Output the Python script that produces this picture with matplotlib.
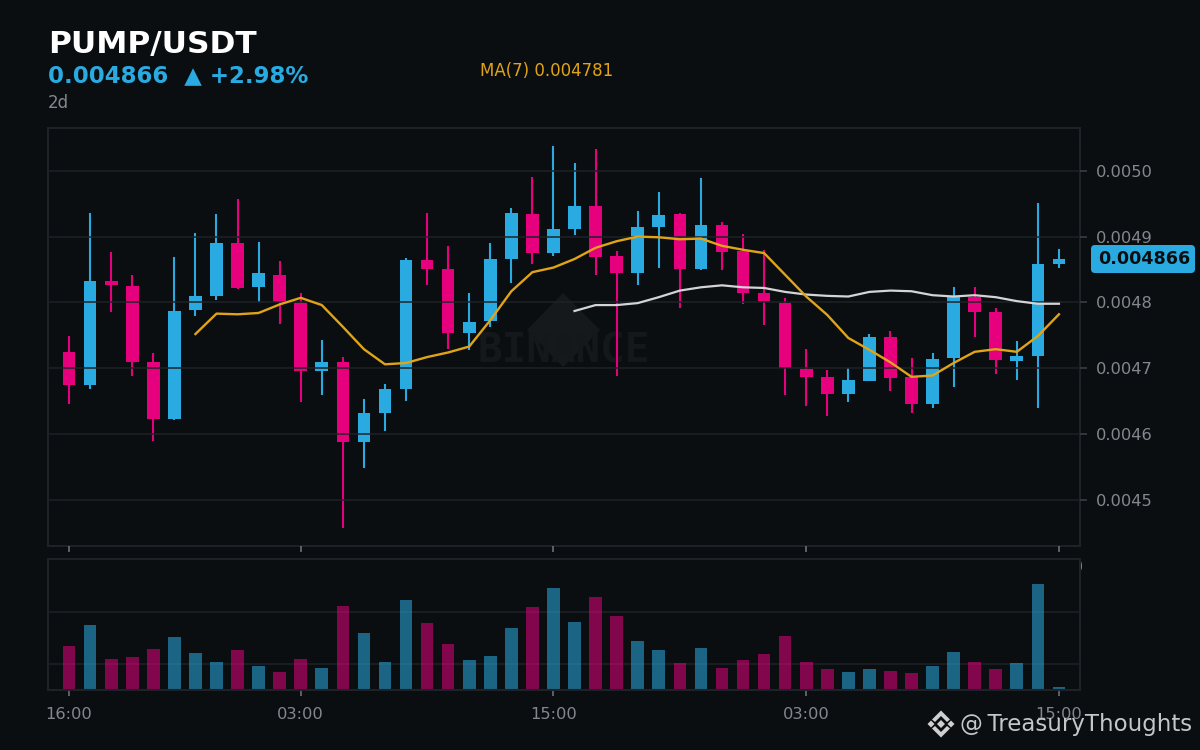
import numpy as np
import matplotlib
matplotlib.use("Agg")
import matplotlib.pyplot as plt
from matplotlib.patches import FancyBboxPatch, Polygon
from matplotlib.ticker import FormatStrFormatter
from matplotlib.transforms import Affine2D

# candle values, in millionths of USDT
opens = [4725, 4675, 4833, 4825, 4710, 4623, 4789, 4810, 4891, 4824, 4842, 4799,
         4696, 4710, 4588, 4632, 4669, 4865, 4851, 4754, 4772, 4866, 4935, 4875,
         4912, 4946, 4871, 4844, 4915, 4935, 4851, 4917, 4878, 4815, 4799, 4699,
         4687, 4661, 4681, 4748, 4687, 4646, 4716, 4809, 4786, 4711, 4719, 4859]
closes = [4675, 4833, 4827, 4710, 4623, 4787, 4810, 4891, 4822, 4844, 4801, 4696,
          4710, 4588, 4632, 4669, 4865, 4851, 4754, 4770, 4866, 4936, 4875, 4912,
          4946, 4869, 4845, 4915, 4933, 4851, 4917, 4877, 4815, 4802, 4701, 4687,
          4661, 4682, 4748, 4685, 4646, 4714, 4809, 4786, 4713, 4719, 4859, 4866]
highs = [4749, 4936, 4876, 4841, 4723, 4869, 4905, 4934, 4957, 4892, 4863, 4814,
         4743, 4717, 4654, 4676, 4867, 4936, 4886, 4814, 4890, 4943, 4991, 5038,
         5012, 5033, 4878, 4939, 4968, 4936, 4989, 4922, 4904, 4880, 4807, 4729,
         4697, 4700, 4752, 4756, 4716, 4723, 4823, 4823, 4791, 4741, 4951, 4881]
lows = [4646, 4669, 4785, 4689, 4590, 4622, 4779, 4803, 4821, 4800, 4768, 4649,
        4659, 4458, 4549, 4605, 4651, 4826, 4729, 4728, 4763, 4830, 4859, 4870,
        4903, 4842, 4689, 4827, 4852, 4791, 4850, 4850, 4797, 4765, 4659, 4643,
        4628, 4649, 4680, 4665, 4632, 4639, 4671, 4747, 4691, 4682, 4639, 4852]

# moving averages start later than the candles
ma7_start = 6
ma7 = [4752, 4783, 4782, 4784, 4797, 4807, 4796, 4763, 4729, 4706, 4708, 4717,
       4724, 4733, 4773, 4817, 4846, 4853, 4866, 4883, 4893, 4900, 4899, 4896,
       4897, 4886, 4880, 4875, 4842, 4809, 4781, 4746, 4728, 4709, 4687, 4689,
       4708, 4725, 4729, 4725, 4749, 4782]
ma25_start = 24
ma25 = [4787, 4796, 4796, 4799, 4808, 4818, 4823, 4826, 4823, 4822, 4816, 4812,
        4810, 4809, 4816, 4818, 4817, 4811, 4809, 4811, 4808, 4802, 4798, 4798]

# volume, arbitrary millions (grid lines sit at 5 and 15)
volumes = [8.5, 12.6, 6.0, 6.4, 7.8, 10.1, 7.2, 5.4, 7.6, 4.7, 3.5, 6.0,
           4.3, 16.2, 11.0, 5.3, 17.4, 12.8, 8.9, 5.8, 6.6, 12.0, 16.0, 19.7,
           13.1, 17.8, 14.3, 9.5, 7.6, 5.1, 8.1, 4.3, 5.8, 7.0, 10.4, 5.4,
           4.1, 3.5, 4.1, 3.7, 3.3, 4.7, 7.4, 5.3, 4.1, 5.1, 20.3, 0.6]

time_ticks = [0, 11, 23, 35, 47]
time_labels = ["16:00", "03:00", "15:00", "03:00", "15:00"]
price_ticks = [0.0045, 0.0046, 0.0047, 0.0048, 0.0049, 0.0050]
vol_grid = [5, 15]

BG = "#0b0e11"
BLUE = "#29abe2"
PINK = "#e6007e"
GOLD = "#e0a416"
WHITE = "#d4d4d6"
GREY = "#84888e"
LINE = "#1e2226"

W, H = 1200, 750
fig = plt.figure(figsize=(12, 7.5), dpi=100, facecolor=BG)
# pixel coordinates, top-left origin, for the text and logos
px = Affine2D().scale(1, -1).translate(0, H)


def box(left, top, right, bottom):
    return [left / W, 1 - bottom / H, (right - left) / W, (bottom - top) / H]


ax = fig.add_axes(box(48, 128, 1080, 546), facecolor=BG)
ax_vol = fig.add_axes(box(48, 559, 1080, 690), facecolor=BG)

o = np.array(opens) / 1e6
c = np.array(closes) / 1e6
hi = np.array(highs) / 1e6
lo = np.array(lows) / 1e6
x = np.arange(len(o))
colors = [BLUE if b >= a else PINK for a, b in zip(o, c)]

# watermark goes under the candles
ax.add_patch(Polygon([(563, 293), (600, 330), (563, 367), (527, 330)], closed=True,
                     transform=px, facecolor="#16191c", edgecolor="none", zorder=0.5))
ax.text(564, 351, "BINANCE", transform=px, family="DejaVu Sans Mono", weight="bold",
        fontsize=29.5, color="#15181b", ha="center", va="center", zorder=0.6)

ax.vlines(x, lo, hi, colors=colors, linewidth=1.5, zorder=2)
ax.bar(x, np.abs(c - o), bottom=np.minimum(o, c), width=0.6, color=colors, zorder=2)
ax.plot(x[ma25_start:], np.array(ma25) / 1e6, color=WHITE, lw=1.6, zorder=3)
ax.plot(x[ma7_start:], np.array(ma7) / 1e6, color=GOLD, lw=1.7, zorder=3.1)

ax.set_xlim(-1, 48)
ax.set_ylim(0.004430, 0.005065)
ax.set_yticks(price_ticks)
ax.yaxis.set_major_formatter(FormatStrFormatter("%.4f"))
ax.yaxis.tick_right()
ax.set_xticks(time_ticks)
ax.tick_params(axis="x", labelbottom=False, length=4, width=1.2, color="#6c7076", pad=4)
ax.tick_params(axis="y", length=5, width=1.2, color="#3a3e43", labelcolor=GREY,
               labelsize=11.7, pad=6.3)
ax.grid(axis="y", color=LINE, lw=1.1)
ax.set_axisbelow(False)

ax_vol.bar(x, volumes, width=0.6, color=colors, alpha=0.55, zorder=2)
ax_vol.set_xlim(-1, 48)
ax_vol.set_ylim(0, 25.2)
ax_vol.set_yticks(vol_grid)
ax_vol.set_xticks(time_ticks)
ax_vol.set_xticklabels(time_labels)
ax_vol.tick_params(axis="y", length=0, labelright=False, labelleft=False)
ax_vol.tick_params(axis="x", length=4, width=1.2, color="#6c7076", labelcolor=GREY,
                   labelsize=11.7, pad=8.5)
ax_vol.grid(axis="y", color=LINE, lw=1.1, zorder=1)
ax_vol.set_axisbelow(True)

for a in (ax, ax_vol):
    for s in a.spines.values():
        s.set_color(LINE)
        s.set_linewidth(1.5)

# header
fig.text(48.5, 53, "PUMP/USDT", transform=px, color="white", weight="bold", fontsize=22.5)
fig.text(48, 82, "0.004866  ▲ +2.98%", transform=px, color=BLUE, weight="bold", fontsize=16.5)
fig.text(48, 107.5, "2d", transform=px, color=GREY, fontsize=12)
fig.text(480, 76, "MA(7) 0.004781", transform=px, color=GOLD, fontsize=12)

# label hiding behind the volume panel, only its edge shows
fig.text(1083, 567, "0", transform=px, color=GREY, fontsize=11.5, ha="right", va="center",
         zorder=-1)

# last price tag
fig.add_artist(FancyBboxPatch((1094, 248), 98, 22, boxstyle="round,pad=3,rounding_size=4",
                              transform=px, facecolor=BLUE, edgecolor="none", zorder=5))
fig.text(1144, 259, "0.004866", transform=px, color=BG, weight="bold", fontsize=12.6,
         ha="center", va="center", zorder=6)

# footer logo and handle
logo_x, logo_y = 941, 724
LOGO = "#cfcfcf"
shapes = [
    [(0, -4), (4, 0), (0, 4), (-4, 0)],
    [(-13.5, 0), (-10, -3.5), (-6.5, 0), (-10, 3.5)],
    [(13.5, 0), (10, -3.5), (6.5, 0), (10, 3.5)],
    [(0, -13.5), (9, -4.5), (6, -2), (0, -8), (-6, -2), (-9, -4.5)],
    [(0, 13.5), (9, 4.5), (6, 2), (0, 8), (-6, 2), (-9, 4.5)],
]
for pts in shapes:
    fig.add_artist(Polygon([(logo_x + a, logo_y + b) for a, b in pts], closed=True,
                           transform=px, facecolor=LOGO, edgecolor="none", zorder=7))
fig.text(959.5, 725, "@\u2009TreasuryThoughts", transform=px, color="#c4c6c8", fontsize=16.5,
         va="center", zorder=7)

fig.savefig("out.png", dpi=100, facecolor=BG)
